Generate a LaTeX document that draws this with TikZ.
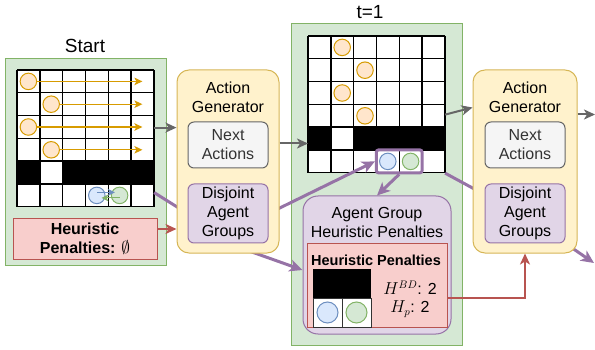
\documentclass[tikz,border=0pt]{standalone}
\usepackage{fontspec}
\setmainfont{Liberation Sans}
\usetikzlibrary{arrows.meta,calc}

\definecolor{grnf}{HTML}{D5E8D4}
\definecolor{grnd}{HTML}{82B366}
\definecolor{ylwf}{HTML}{FFF2CC}
\definecolor{ylwd}{HTML}{D6B656}
\definecolor{gryf}{HTML}{F5F5F5}
\definecolor{gryd}{HTML}{666666}
\definecolor{gryt}{HTML}{333333}
\definecolor{purf}{HTML}{E1D5E7}
\definecolor{purd}{HTML}{9673A6}
\definecolor{redf}{HTML}{F8CECC}
\definecolor{redd}{HTML}{B85450}
\definecolor{bluf}{HTML}{DAE8FC}
\definecolor{blud}{HTML}{6C8EBF}
\definecolor{orgf}{HTML}{FFE6CC}
\definecolor{orgd}{HTML}{D79B00}

\pgfdeclarelayer{board}
\pgfdeclarelayer{wires}
\pgfsetlayers{board,wires,main}

\begin{document}
\begin{tikzpicture}[x=1pt,y=-1pt,
  every node/.style={inner sep=0pt,align=center,font=\fontsize{16}{19}\selectfont},
  panel/.style={draw=grnd,fill=grnf,line width=1pt},
  board/.style={minimum width=136.8pt,minimum height=136.8pt,anchor=north west},
  gen/.style={draw=ylwd,fill=ylwf,line width=1pt,rounded corners=12pt,minimum height=183pt},
  nxt/.style={draw=gryd,fill=gryf,text=gryt,line width=1pt,rounded corners=6pt,minimum width=80pt,minimum height=46pt},
  dsj/.style={draw=purd,fill=purf,line width=1pt,rounded corners=6pt,minimum width=80pt,minimum height=59pt},
  pen/.style={draw=redd,fill=redf,line width=1pt},
  orng/.style={circle,draw=orgd,fill=orgf,line width=1pt,minimum size=16.5pt},
  blu/.style={circle,draw=blud,fill=bluf,line width=1pt,minimum size=16.5pt},
  grn/.style={circle,draw=grnd,fill=grnf,line width=1pt,minimum size=16.5pt},
  cell/.style={line width=1.4pt},
  oarr/.style={draw=orgd,line width=1.3pt,-{Stealth[length=8pt,width=7.5pt,inset=2pt]}},
  barr/.style={line width=1.2pt,-{Stealth[length=7pt,width=7pt,inset=2pt]}},
  garr/.style={draw=gryd,line width=2pt,-{Stealth[length=11pt,width=10pt,inset=3pt]}},
  parr/.style={draw=purd,line width=3pt,-{Stealth[length=13pt,width=12pt,inset=3.5pt]}},
  rarr/.style={draw=redd,line width=2pt,-{Stealth[length=11pt,width=10pt,inset=3pt]}},
  pline/.style={draw=purd,line width=3pt}
]
\useasboundingbox (0,0) rectangle (595,350);

\begin{pgfonlayer}{board}
  % start state
  \node[panel,minimum width=160.5pt,minimum height=206.5pt] (panel0) at (85.75,161.75) {};
  \node[font=\fontsize{19}{22}\selectfont] (start) at (85,45.5) {Start};
  \node[board] (grid0) at (17,70) {};
  \begin{scope}[shift={(grid0.north west)},x=22.8pt,y=-22.8pt]
    \fill[white] (0,0) rectangle (6,6);
    \fill[black] (0,4) rectangle (1,5) (2,4) rectangle (6,5);
    \foreach \i in {0,...,6}
      \draw[cell] (\i,0) -- (\i,6) (0,\i) -- (6,\i);
    \foreach \r/\c in {0/0,1/1,2/0,3/1} {
      \node[orng] (s\r) at (\c+0.5,\r+0.5) {};
      \draw[oarr] (s\r) -- (5.5,\r+0.5);
    }
    \node[blu] (sb) at (3.5,5.5) {};
    \node[grn] (sg) at (4.5,5.5) {};
    \draw[barr,blud] ([yshift=3pt]sb.center) -- ([xshift=4pt,yshift=3pt]sg.west);
    \draw[barr,grnd] ([yshift=-2.5pt]sg.center) -- ([xshift=-4pt,yshift=-2.5pt]sb.east);
  \end{scope}

  % state at t=1
  \node[panel,minimum width=171pt,minimum height=321pt] (panel1) at (376.5,184.5) {};
  \node[font=\fontsize{19}{22}\selectfont] (tone) at (370,12) {t=1};
  \node[board] (grid1) at (308,36) {};
  \begin{scope}[shift={(grid1.north west)},x=22.8pt,y=-22.8pt]
    \fill[white] (0,0) rectangle (6,6);
    \fill[black] (0,4) rectangle (1,5) (2,4) rectangle (6,5);
    \foreach \i in {0,...,6}
      \draw[cell] (\i,0) -- (\i,6) (0,\i) -- (6,\i);
    \foreach \r/\c in {0/1,1/2,2/1,3/2}
      \node[orng] (t\r) at (\c+0.5,\r+0.5) {};
    \node[blu] (tb) at (3.5,5.5) {};
    \node[grn] (tg) at (4.5,5.5) {};
  \end{scope}
\end{pgfonlayer}

\node[pen,minimum width=144pt,minimum height=40pt,font=\bfseries\fontsize{16}{19}\selectfont] (pen0) at (85,239) {Heuristic\\Penalties: $\emptyset$};

% first action generator
\node[gen,minimum width=102pt] (ag1) at (228,161.5) {};
\node (ag1t) at (228,97.5) {Action\\Generator};
\node[nxt] (next1) at (228,145) {Next\\Actions};
\node[dsj] (dis1) at (228,213.5) {Disjoint\\Agent\\Groups};

% agent group penalties
\node[draw=purd,line width=3pt,rounded corners=2pt,minimum width=45.6pt,minimum height=22.8pt] (grp) at ($(tb)!0.5!(tg)$) {};
\node[draw=purd,fill=purf,line width=1pt,rounded corners=15pt,minimum width=148pt,minimum height=138pt] (agp) at (377,265) {};
\node (agpt) at (377,222.5) {Agent Group\\Heuristic Penalties};
\node[pen,minimum width=140pt,minimum height=83pt] (pen1) at (377,285.5) {};
\node[font=\bfseries\fontsize{14.5}{17}\selectfont] (pen1t) at (376,260) {Heuristic Penalties};
\fill (313,269) rectangle (371,298);
\filldraw[fill=white,draw=black!80,line width=1pt] (313,298) rectangle (342,327) (342,298) rectangle (371,327);
\node[blu,minimum size=21pt] (mb) at (327.5,312.5) {};
\node[grn,minimum size=21pt] (mg) at (356.5,312.5) {};
\node[font=\fontsize{16}{18}\selectfont] (hval) at (410,299) {$H^{BD}$: 2\\$H_p$: 2};

% second action generator
\node[gen,minimum width=104pt] (ag2) at (525,161.5) {};
\node (ag2t) at (525,97.5) {Action\\Generator};
\node[nxt] (next2) at (525,145) {Next\\Actions};
\node[dsj] (dis2) at (525,213.5) {Disjoint\\Agent\\Groups};

\coordinate (out1) at (595,114.5);
\coordinate (out2) at (594,263);

\begin{pgfonlayer}{wires}
  \draw[pline] ([yshift=-54pt]grid0.east) -- (dis1.west);
  \draw[parr] (dis1.east) -- (grp.west);
  \draw[parr] (dis1.south) -- ([yshift=-5pt]agp.west);
  \draw[pline] (grid1.south east) -- ([yshift=19pt]dis2.west);
  \draw[parr] (dis2.south east) -- (out2);
\end{pgfonlayer}

\draw[garr] ([yshift=11pt]grid0.east) -- ([yshift=11pt]grid0.east -| ag1.west);
\draw[rarr] ([yshift=10pt]pen0.east) -- ([yshift=10pt]pen0.east -| ag1.west);
\draw[garr] ([yshift=18pt]ag1.east) -- ([yshift=18pt]ag1.east -| grid1.west);
\draw[garr] ([yshift=-10pt]grid1.east) -- ([yshift=54pt]ag2.west);
\draw[garr] ([yshift=47pt]ag2.east) -- (out1);
\draw[rarr] ([yshift=-12.5pt]pen1.east) -| (ag2.south);
\draw[parr] (grp.south) -- (agp.north);
\end{tikzpicture}
\end{document}
